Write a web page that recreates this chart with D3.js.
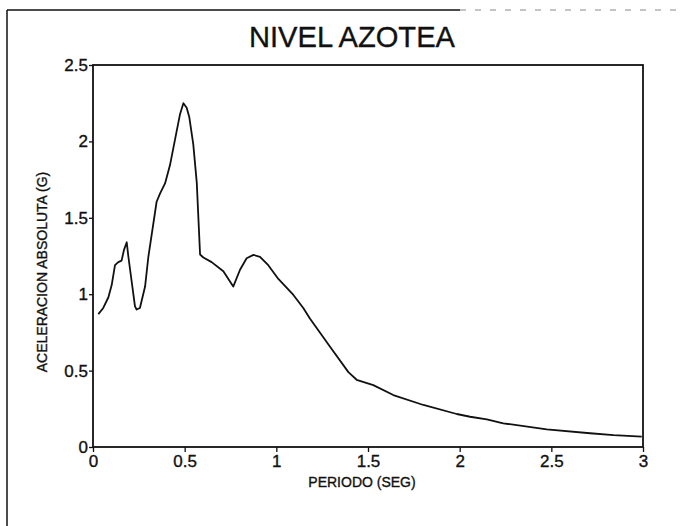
<!DOCTYPE html>
<html>
<head>
<meta charset="utf-8">
<script src="https://cdn.jsdelivr.net/npm/d3@7"></script>
<style>
  html, body { margin: 0; padding: 0; background: #fff; }
  svg { display: block; font-family: "Liberation Sans", Arial, sans-serif; }
  text { stroke: #111; stroke-width: 0.35px; }
</style>
</head>
<body>
<svg id="chart" width="688" height="526"></svg>
<script>
// Response spectrum, roof level: period (s) vs absolute acceleration (g)
const periods = [0.029, 0.056, 0.084, 0.102, 0.12, 0.138, 0.156, 0.169, 0.184, 0.193,
  0.229, 0.238, 0.256, 0.284, 0.302, 0.347, 0.366, 0.393, 0.42, 0.447, 0.475, 0.493,
  0.511, 0.525, 0.547, 0.566, 0.584, 0.602, 0.647, 0.711, 0.765, 0.802, 0.838, 0.875,
  0.911, 0.956, 1.011, 1.093, 1.147, 1.184, 1.293, 1.393, 1.438, 1.529, 1.638, 1.802,
  1.984, 2.057, 2.148, 2.238, 2.475, 2.711, 2.84, 2.993];
const accel = [0.87, 0.91, 0.98, 1.06, 1.19, 1.21, 1.22, 1.29, 1.34, 1.245,
  0.92, 0.90, 0.91, 1.05, 1.245, 1.605, 1.66, 1.725, 1.845, 2.01, 2.18, 2.25,
  2.22, 2.16, 1.98, 1.73, 1.26, 1.24, 1.21, 1.15, 1.05, 1.16, 1.235, 1.257,
  1.245, 1.19, 1.10, 0.995, 0.91, 0.84, 0.656, 0.49, 0.44, 0.405, 0.34, 0.275,
  0.216, 0.198, 0.181, 0.155, 0.116, 0.09, 0.078, 0.068];

const xTicks = [0, 0.5, 1, 1.5, 2, 2.5, 3];
const yTicks = [0, 0.5, 1, 1.5, 2, 2.5];

const titleText = "NIVEL AZOTEA";
const xLabel = "PERIODO (SEG)";
const yLabel = "ACELERACION ABSOLUTA (G)";

const svg = d3.select("#chart");
const plot = { left: 93, right: 643, top: 65, bottom: 447 };

const x = d3.scaleLinear().domain([0, 3]).range([plot.left, plot.right]);
const y = d3.scaleLinear().domain([0, 2.5]).range([plot.bottom, plot.top]);

// page frame (left and top edges)
svg.append("line").attr("x1", 7).attr("y1", 10).attr("x2", 7).attr("y2", 526)
  .attr("stroke", "#111").attr("stroke-width", 1.5);
svg.append("line").attr("x1", 7).attr("y1", 10).attr("x2", 460).attr("y2", 10)
  .attr("stroke", "#111").attr("stroke-width", 1.5);
svg.append("line").attr("x1", 460).attr("y1", 10).attr("x2", 680).attr("y2", 10)
  .attr("stroke", "#888").attr("stroke-width", 1).attr("stroke-dasharray", "6,9");

// title
svg.append("text").attr("x", 352).attr("y", 47)
  .attr("text-anchor", "middle").attr("font-size", 30).attr("fill", "#111")
  .attr("textLength", 206).attr("lengthAdjust", "spacingAndGlyphs")
  .text(titleText);

// axes
const xAxis = d3.axisBottom(x).tickValues(xTicks).tickSize(5).tickSizeOuter(0)
  .tickPadding(3).tickFormat(d3.format("~g"));
const yAxis = d3.axisLeft(y).tickValues(yTicks).tickSize(4).tickSizeOuter(0)
  .tickPadding(1).tickFormat(d3.format("~g"));

const gx = svg.append("g").attr("transform", `translate(0,${plot.bottom})`).call(xAxis);
const gy = svg.append("g").attr("transform", `translate(${plot.left},0)`).call(yAxis);
[gx, gy].forEach(g => {
  g.select(".domain").remove();
  g.selectAll(".tick line").attr("stroke", "#111").attr("stroke-width", 1.3);
  g.selectAll(".tick text").attr("font-size", 17).attr("fill", "#111")
    .attr("font-family", "Liberation Sans, Arial, sans-serif");
});

// plot frame
svg.append("rect")
  .attr("x", plot.left).attr("y", plot.top)
  .attr("width", plot.right - plot.left).attr("height", plot.bottom - plot.top)
  .attr("fill", "none").attr("stroke", "#111").attr("stroke-width", 1.8);

// axis labels
svg.append("text").attr("x", 362).attr("y", 487)
  .attr("text-anchor", "middle").attr("font-size", 14).attr("fill", "#111")
  .text(xLabel);
svg.append("text")
  .attr("transform", "translate(47,272) rotate(-90)")
  .attr("text-anchor", "middle").attr("font-size", 14).attr("fill", "#111")
  .text(yLabel);

// spectrum curve
const data = periods.map((p, i) => ({ p, a: accel[i] }));
const line = d3.line().x(d => x(d.p)).y(d => y(d.a));
svg.append("path").datum(data)
  .attr("d", line)
  .attr("fill", "none").attr("stroke", "#111").attr("stroke-width", 1.8)
  .attr("stroke-linejoin", "round");
</script>
</body>
</html>
